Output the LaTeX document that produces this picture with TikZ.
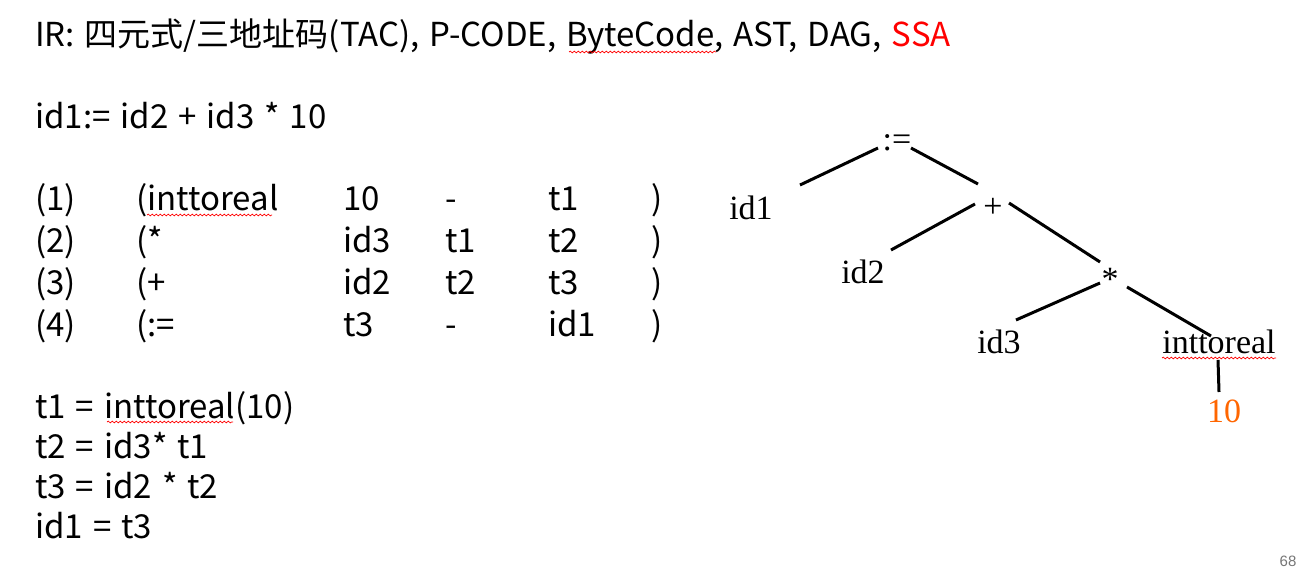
\documentclass[tikz,border=0pt]{standalone}
\usepackage{fontspec}
\newfontfamily\yh[WordSpace=1.35]{Noto Sans CJK SC}
\newfontfamily\tms{Liberation Serif}
\newfontfamily\pgsans{Liberation Sans}
\usetikzlibrary{decorations.pathmorphing,calc}
\definecolor{ssared}{RGB}{255,0,0}
\definecolor{tenorange}{RGB}{255,102,0}
\definecolor{pagegray}{RGB}{118,118,118}
\begin{document}
\begin{tikzpicture}[x=1pt,y=-1pt,
  lt/.style={font=\yh\fontsize{33}{39}\selectfont, anchor=base west, inner sep=0pt},
  tr/.style={font=\tms\fontsize{34}{40}\selectfont, anchor=base, inner sep=0pt},
  edge/.style={line width=3pt},
  squig/.style={ssared, line width=0.7pt, decorate, decoration={snake, amplitude=0.9pt, segment length=4pt}}]
\useasboundingbox[fill=white] (0,0) rectangle (1314,586);
% left text
\node[lt] (title) at (35,47) {IR: 四元式/三地址码(TAC), P-CODE, ByteCode, AST, DAG, \textcolor{ssared}{SSA}};
\node[lt] (expr) at (35,128) {id1:= id2 + id3 * 10};
% quadruples
\foreach \y/\a/\b/\c/\d/\e [count=\i] in {210/(1)/(inttoreal/10/-/t1, 252/(2)/(*/id3/t1/t2, 294/(3)/(+/id2/t2/t3, 336/(4)/(:=/t3/-/id1}{
  \node[lt] (q\i a) at (35,\y) {\a};
  \node[lt] (q\i b) at (136,\y) {\b};
  \node[lt] (q\i c) at (343,\y) {\c};
  \node[lt] (q\i d) at (445,\y) {\d};
  \node[lt] (q\i e) at (548,\y) {\e};
  \node[lt] (q\i f) at (651,\y) {)};
}
% three-address code
\node[lt] (c1) at (35,418) {t1 = inttoreal(10)};
\node[lt] (c2) at (35,458) {t2 = id3* t1};
\node[lt] (c3) at (35,498) {t3 = id2 * t2};
\node[lt] (c4) at (35,538) {id1 = t3};
% tree
\node[tr] (asg) at (897,150) {:=};
\node[tr] (id1) at (751,219) {id1};
\node[tr] (plus) at (993,217) {+};
\node[tr] (id2) at (863,283) {id2};
\node[tr] (mul) at (1110,290) {*};
\node[tr] (id3) at (999,353) {id3};
\node[tr] (itr) at (1219,353) {inttoreal};
\node[tr, text=tenorange] (ten) at (1224,422) {10};
\draw[edge] ($(asg.base)+(-19,-2)$) -- ($(id1.base)+(49,-34)$);
\draw[edge] ($(asg.base)+(14,-2)$) -- ($(plus.base)+(-15,-33)$);
\draw[edge] ($(plus.base)+(-18,-13)$) -- ($(id2.base)+(28,-33)$);
\draw[edge] ($(plus.base)+(16,-14)$) -- ($(mul.base)+(-10,-28)$);
\draw[edge] ($(mul.base)+(-10,-7)$) -- ($(id3.base)+(17,-33)$);
\draw[edge] ($(mul.base)+(17,-3)$) -- ($(itr.base)+(-8,-17)$);
\draw[edge] ($(itr.base)+(-1,7)$) -- ($(ten.base)+(-5,-30)$);
% spell-check marks
\draw[squig] (569,52) -- (716,52);
\draw[squig] (147,215) -- (272,215);
\draw[squig] (1162,358) -- (1276,358);
\draw[squig] (107,422) -- (233,422);
% page number
\node[font=\pgsans\fontsize{15}{18}\selectfont, text=pagegray, inner sep=0pt] (pg) at (1288,561) {68};
\end{tikzpicture}
\end{document}
